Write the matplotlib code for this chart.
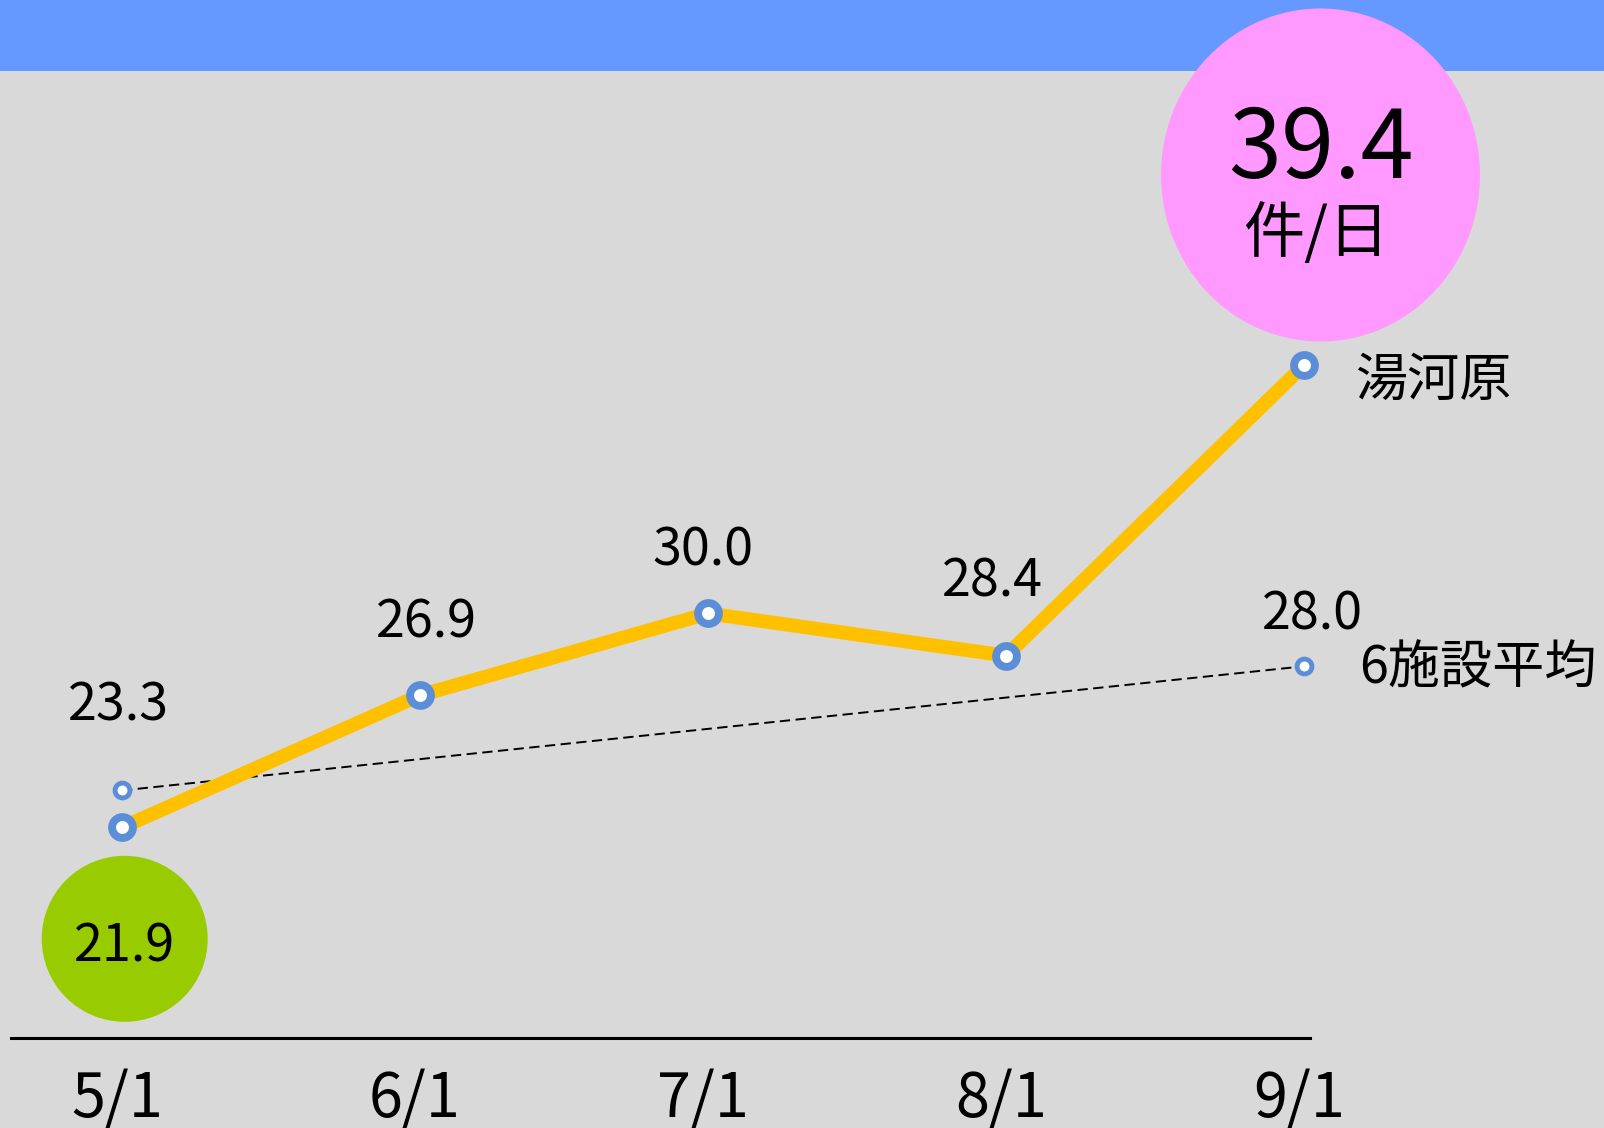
import matplotlib.pyplot as plt
from matplotlib.patches import Ellipse, Rectangle
import matplotlib.dates as mdates
import numpy as np

# データ
dates = np.array(['2019-05-01', '2019-06-01', '2019-07-01', '2019-08-01', '2019-09-01'], dtype='datetime64[D]')
tick_labels = ['5/1', '6/1', '7/1', '8/1', '9/1']
yugawara = [21.9, 26.9, 30.0, 28.4, 39.4]
avg_dates = dates[[0, -1]]
avg_values = [23.3, 28.0]
series_names = ['湯河原', '6施設平均']
unit = '件/日'

plt.rcParams['font.family'] = ['Noto Sans CJK JP', 'DejaVu Sans']

W, H = 1604, 1128
PT = 0.72  # px -> pt
fig = plt.figure(figsize=(W / 100, H / 100), dpi=100, facecolor='#D9D9D9')
ax = fig.add_axes([11 / W, 90 / H, 1299 / W, 967 / H])
ax.patch.set_visible(False)

x = mdates.date2num(dates)
ax.set_xlim(x[0] - 11.55, x[-1] + 0.62)
ax.set_ylim(13.93, 50.53)
ax.set_xticks([])
ax.set_yticks([])
for s in ['top', 'left', 'right']:
    ax.spines[s].set_visible(False)
ax.spines['bottom'].set_linewidth(2.2)
ax.spines['bottom'].set_color('black')

# 線
ax.plot(dates, yugawara, color='#FFC000', lw=10, marker='o', ms=15, mfc='white',
        mec='#5B8ED6', mew=5.7, zorder=3, clip_on=False)
ax.plot(avg_dates, avg_values, color='black', lw=1.4, dashes=(5.3, 2.8), marker='o', ms=10.7,
        mfc='white', mec='#5B8ED6', mew=3.5, zorder=2, clip_on=False)

# データラベル
lab_off = [None, (7, 79), (-5, 69), (-14, 80), None]
for d, v, off in zip(dates, yugawara, lab_off):
    if off is None:
        continue
    ax.annotate(f'{v:.1f}', xy=(d, v), xytext=(off[0] * PT, off[1] * PT), textcoords='offset points',
                ha='center', va='center_baseline', fontsize=37.5)
avg_off = [(-4, 91), (8, 58)]
for d, v, off in zip(avg_dates, avg_values, avg_off):
    ax.annotate(f'{v:.1f}', xy=(d, v), xytext=(off[0] * PT, off[1] * PT), textcoords='offset points',
                ha='center', va='center_baseline', fontsize=37.5)

# 系列名
ax.annotate(series_names[0], xy=(dates[-1], yugawara[-1]), xytext=(51 * PT, -10 * PT),
            textcoords='offset points', ha='left', va='center_baseline', fontsize=37.5)
ax.annotate(series_names[1], xy=(avg_dates[-1], avg_values[-1]), xytext=(55 * PT, 4 * PT),
            textcoords='offset points', ha='left', va='center_baseline', fontsize=37.5)

# 横軸ラベル
for d, lab in zip(dates, tick_labels):
    ax.annotate(lab, xy=(d, 0), xycoords=('data', 'axes fraction'), xytext=(-5 * PT, -55 * PT),
                textcoords='offset points', ha='center', va='center_baseline', fontsize=44)

# 上部の帯と丸
fig.add_artist(Rectangle((0, 1 - 71 / H), 1, 71 / H, transform=fig.transFigure,
                         facecolor='#6699FF', edgecolor='none', zorder=0.5))
fig.add_artist(Ellipse((1320.5 / W, 1 - 175 / H), 319 / W, 333 / H, transform=fig.transFigure,
                       facecolor='#FF99FF', edgecolor='none', zorder=1))
fig.add_artist(Ellipse((124.7 / W, 1 - 938.8 / H), 166 / W, 166 / H, transform=fig.transFigure,
                       facecolor='#99CC00', edgecolor='none', zorder=1))
fig.text(1321 / W, 1 - 140 / H, f'{yugawara[-1]:.1f}', ha='center', va='center_baseline', fontsize=68.7)
fig.text(1316 / W, 1 - 227.5 / H, unit, ha='center', va='center_baseline', fontsize=44)
fig.text(125 / W, 1 - 941 / H, f'{yugawara[0]:.1f}', ha='center', va='center_baseline', fontsize=37.5)

fig.savefig('out.png', dpi=100, facecolor=fig.get_facecolor())
